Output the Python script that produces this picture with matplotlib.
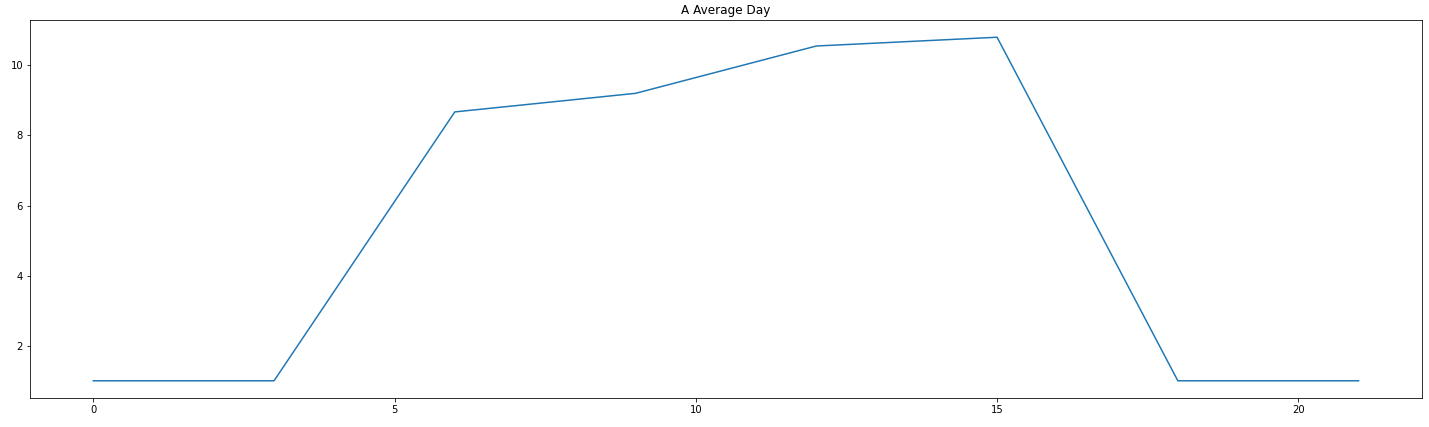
import numpy as np
from matplotlib import pyplot as plt

hours = [0, 3, 6, 9, 12, 15, 18, 21]
values = [1.0, 1.0, 8.67, 9.2, 10.55, 10.8, 1.0, 1.0]

fig, ax = plt.subplots(figsize=(1429 / 72, 427 / 72), dpi=72)
ax.plot(hours, values)
ax.set_title("A Average Day")
fig.subplots_adjust(left=0.021, right=0.995, top=0.953, bottom=0.068)
fig.savefig("out.png", dpi=72)
